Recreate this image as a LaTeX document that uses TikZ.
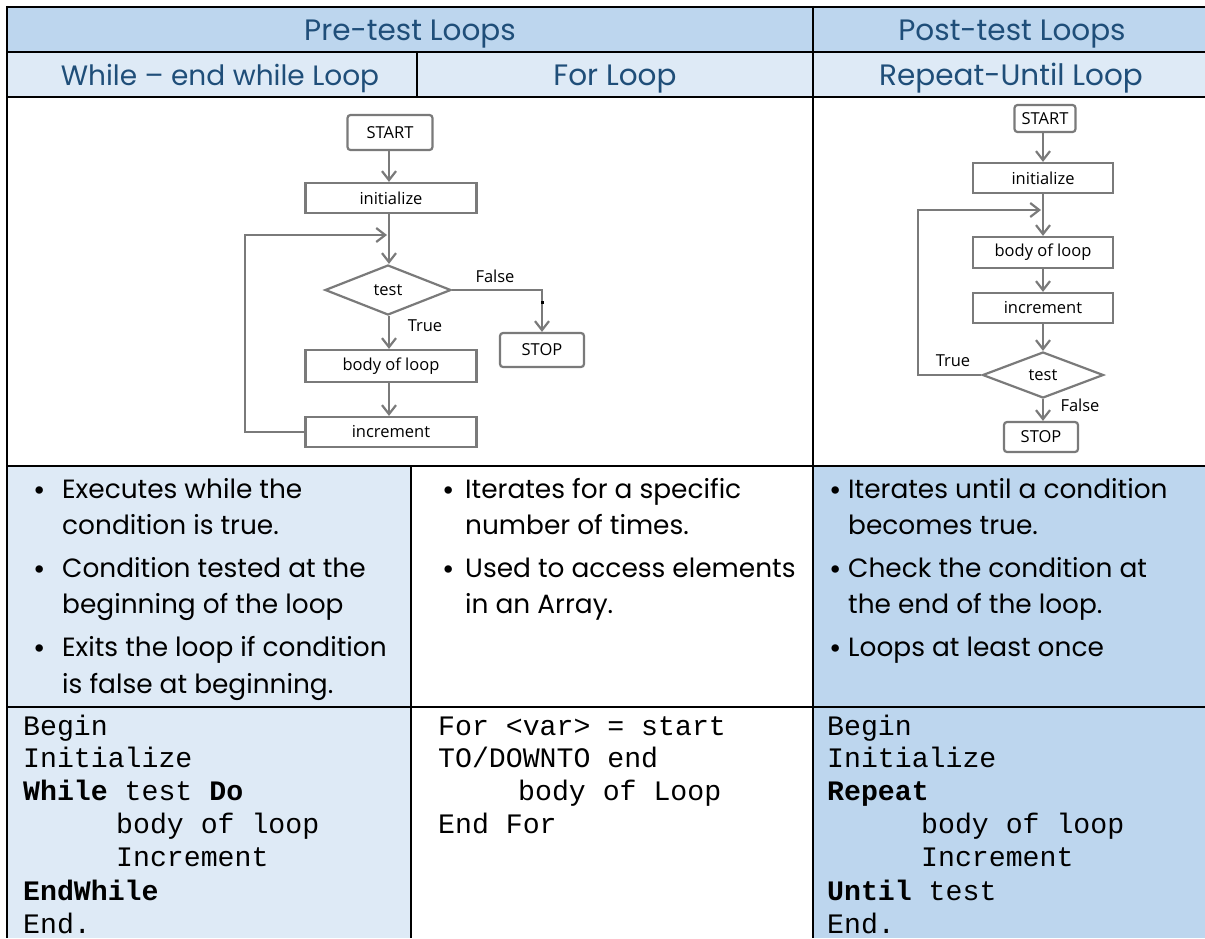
\documentclass[tikz,border=0pt]{standalone}
\usepackage{fontspec}
\setmainfont{Poppins}
\newfontfamily\codefont{Liberation Mono}
\newfontfamily\chartfont{Open Sans}
\usetikzlibrary{shapes.geometric,arrows.meta}
\definecolor{hdrblue}{HTML}{BDD6EE}
\definecolor{lightblue}{HTML}{DEEAF6}
\definecolor{hdrtext}{HTML}{1F4E79}
\definecolor{fcgray}{HTML}{7A7A7A}
\begin{document}
\begin{tikzpicture}[x=1pt,y=-1pt,
 grid/.style={line width=2.5pt, draw=black},
 hdr/.style={anchor=base, font=\fontsize{29.5}{34}\selectfont, text=hdrtext, inner sep=0},
 bul/.style={anchor=base west, inner sep=0, font=\fontsize{26.4}{31}\selectfont},
 dot/.style={anchor=base, inner sep=0, font=\fontsize{30}{34}\selectfont},
 code/.style={anchor=base west, inner sep=0, font=\codefont\fontsize{28.2}{33}\selectfont},
 fcbox/.style={draw=fcgray, line width=2.2pt, fill=white, inner sep=0, font=\chartfont\fontsize{16.5}{19}\selectfont},
 fcround/.style={fcbox, rounded corners=3pt},
 fcdiam/.style={fcbox, diamond, aspect=2.5},
 fcarrow/.style={draw=fcgray, line width=2.2pt, -{Straight Barb[length=9pt,width=14pt,line width=2.2pt]}},
 fclab/.style={font=\chartfont\fontsize{16.5}{19}\selectfont, inner sep=0}
]
\useasboundingbox (0,0) rectangle (1205,938);
% fills
\fill[hdrblue] (7,7) rectangle (1205,52);
\fill[lightblue] (7,52) rectangle (1205,97);
\fill[lightblue] (7,466) rectangle (411,938);
\fill[hdrblue] (813,466) rectangle (1205,938);
% grid
\draw[grid] (7,7) -- (1205,7);
\draw[grid] (7,52) -- (1205,52);
\draw[grid] (7,97) -- (1205,97);
\draw[grid] (7,466) -- (1205,466);
\draw[grid] (7,707) -- (1205,707);
\draw[grid] (7,5.75) -- (7,938);
\draw[grid] (813,5.75) -- (813,938);
\draw[grid] (417,52) -- (417,97);
\draw[grid] (411,466) -- (411,938);
% headers
\node[hdr] (h1) at (410,40) {Pre-test Loops};
\node[hdr] (h2) at (1012,40) {Post-test Loops};
\node[hdr, font=\fontsize{28}{34}\selectfont] (h3) at (220,85) {While – end while Loop};
\node[hdr] (h4) at (615,85) {For Loop};
\node[hdr] (h5) at (1011,85) {Repeat-Until Loop};
% bullets left
\node[dot] (bl0) at (40,500) {•};
\node[bul] (bl1) at (62,498) {Executes while the};
\node[bul] (bl2) at (62,534) {condition is true.};
\node[dot] (bl3) at (40,579) {•};
\node[bul] (bl4) at (62,577) {Condition tested at the};
\node[bul] (bl5) at (62,613) {beginning of the loop};
\node[dot] (bl6) at (40,658) {•};
\node[bul] (bl7) at (62,656) {Exits the loop if condition};
\node[bul] (bl8) at (62,693) {is false at beginning.};
% bullets middle
\node[dot] (bm0) at (449,500) {•};
\node[bul] (bm1) at (465,498) {Iterates for a specific};
\node[bul] (bm2) at (465,534) {number of times.};
\node[dot] (bm3) at (449,579) {•};
\node[bul] (bm4) at (465,577) {Used to access elements};
\node[bul] (bm5) at (465,613) {in an Array.};
% bullets right
\node[dot] (br0) at (836,500) {•};
\node[bul] (br1) at (848,498) {Iterates until a condition};
\node[bul] (br2) at (848,534) {becomes true.};
\node[dot] (br3) at (836,579) {•};
\node[bul] (br4) at (848,577) {Check the condition at};
\node[bul] (br5) at (848,613) {the end of the loop.};
\node[dot] (br6) at (836,658) {•};
\node[bul] (br7) at (848,656) {Loops at least once};
% code left
\node[code] (cl1) at (23,735) {Begin};
\node[code] (cl2) at (23,767) {Initialize};
\node[code] (cl3) at (23,800) {\textbf{While} test \textbf{Do}};
\node[code] (cl4) at (116,833) {body of loop};
\node[code] (cl5) at (116,866) {Increment};
\node[code] (cl6) at (23,900) {\textbf{EndWhile}};
\node[code] (cl7) at (23,933) {End.};
% code middle
\node[code] (cm1) at (438,735) {For <var> = start};
\node[code] (cm2) at (438,767) {TO/DOWNTO end};
\node[code] (cm3) at (518,800) {body of Loop};
\node[code] (cm4) at (438,833) {End For};
% code right
\node[code] (cr1) at (827,735) {Begin};
\node[code] (cr2) at (827,767) {Initialize};
\node[code] (cr3) at (827,800) {\textbf{Repeat}};
\node[code] (cr4) at (921,833) {body of loop};
\node[code] (cr5) at (921,866) {Increment};
\node[code] (cr6) at (827,900) {\textbf{Until} test};
\node[code] (cr7) at (827,933) {End.};
% flowchart left (pre-test)
\node[fcround, minimum width=85pt, minimum height=35pt] (startA) at (390,132.5) {START};
\node[fcbox, minimum width=171pt, minimum height=30pt] (initA) at (391,198) {initialize};
\node[fcdiam, minimum width=126pt, minimum height=50pt] (testA) at (388,290) {test};
\node[fcbox, minimum width=171pt, minimum height=32pt] (bodyA) at (391,366) {body of loop};
\node[fcbox, minimum width=171pt, minimum height=30pt] (incrA) at (391,432) {increment};
\node[fcround, minimum width=84pt, minimum height=34pt] (stopA) at (542,350) {STOP};
\coordinate (colA) at (389,0);
\coordinate (cornerA) at (245,235);
\coordinate (joinA) at (387,235);
\coordinate (falseA) at (542,290);
\draw[fcarrow] (startA.south -| colA) -- (initA.north -| colA);
\draw[fcarrow] (initA.south -| colA) -- (testA.north -| colA);
\draw[fcarrow] (testA.south -| colA) -- (bodyA.north -| colA);
\draw[fcarrow] (bodyA.south -| colA) -- (incrA.north -| colA);
\draw[fcarrow] (incrA.west) -| (cornerA) -- (joinA);
\draw[fcarrow] (testA.east) -- (falseA) -- (stopA.north);
\fill[black] (541,301) rectangle (543.5,304);
\node[fclab] (falseLA) at (495,276) {False};
\node[fclab] (trueLA) at (425,326) {True};
% flowchart right (post-test)
\node[fcround, minimum width=61pt, minimum height=27pt] (startB) at (1045,118.5) {START};
\node[fcbox, minimum width=140pt, minimum height=30pt] (initB) at (1043,178) {initialize};
\node[fcbox, minimum width=140pt, minimum height=31pt] (bodyB) at (1043,252.5) {body of loop};
\node[fcbox, minimum width=140pt, minimum height=30pt] (incrB) at (1043,308) {increment};
\node[fcdiam, minimum width=121pt, minimum height=46pt] (testB) at (1043,375) {test};
\node[fcround, minimum width=74pt, minimum height=30pt] (stopB) at (1041,437) {STOP};
\coordinate (cornerB) at (918,210);
\coordinate (joinB) at (1041,210);
\draw[fcarrow] (startB.south -| initB) -- (initB);
\draw[fcarrow] (initB) -- (bodyB);
\draw[fcarrow] (bodyB) -- (incrB);
\draw[fcarrow] (incrB) -- (testB);
\draw[fcarrow] (testB.south) -- (testB.south |- stopB.north);
\draw[fcarrow] (testB.west) -| (cornerB) -- (joinB);
\node[fclab] (trueLB) at (953,361) {True};
\node[fclab] (falseLB) at (1080,405) {False};
\end{tikzpicture}
\end{document}
